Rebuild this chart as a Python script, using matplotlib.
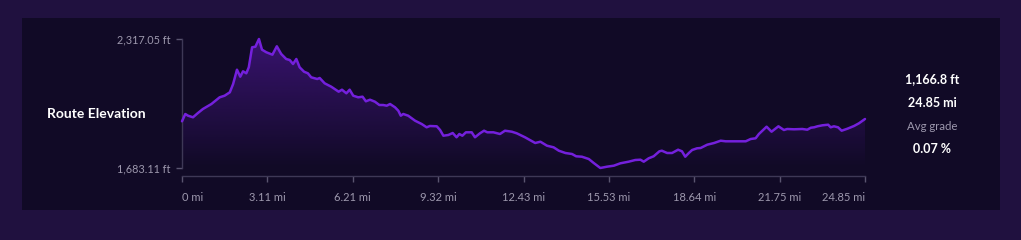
import numpy as np
import matplotlib.pyplot as plt
from matplotlib.patches import Rectangle

# distance along route (mi) and elevation (ft)
dist_mi = [0.00, 0.12, 0.22, 0.40, 0.58, 0.76, 1.07, 1.37, 1.55, 1.74,
           1.86, 2.00, 2.12, 2.22, 2.34, 2.43, 2.55, 2.67, 2.80, 2.91,
           3.07, 3.29, 3.45, 3.61, 3.79, 3.92, 4.04, 4.16, 4.28, 4.44,
           4.58, 4.70, 4.92, 5.01, 5.19, 5.43, 5.70, 5.82, 5.98, 6.10,
           6.23, 6.41, 6.57, 6.69, 6.84, 7.02, 7.18, 7.32, 7.45, 7.57,
           7.75, 7.87, 7.96, 8.05, 8.23, 8.48, 8.72, 8.90, 9.02, 9.27,
           9.39, 9.51, 9.69, 9.85, 9.99, 10.09, 10.20, 10.33, 10.54, 10.66,
           10.84, 10.99, 11.11, 11.33, 11.57, 11.75, 12.00, 12.18, 12.48, 12.85,
           13.04, 13.28, 13.52, 13.71, 13.95, 14.19, 14.34, 14.55, 14.80, 14.98,
           15.22, 15.46, 15.71, 15.95, 16.25, 16.49, 16.68, 16.80, 16.98, 17.16,
           17.37, 17.46, 17.65, 17.83, 18.05, 18.19, 18.31, 18.44, 18.56, 18.74,
           18.87, 19.11, 19.36, 19.60, 19.78, 20.09, 20.51, 20.69, 20.87, 20.99,
           21.27, 21.45, 21.70, 21.90, 22.02, 22.27, 22.57, 22.75, 22.88, 23.00,
           23.12, 23.30, 23.51, 23.60, 23.72, 23.87, 24.00, 24.21, 24.45, 24.63,
           24.85]
elev_ft = [1912.6, 1948.5, 1940.1, 1932.3, 1953.4, 1973.0, 1997.6, 2030.5, 2038.4, 2055.1,
           2095.9, 2166.2, 2131.8, 2158.3, 2148.5, 2178.0, 2276.3, 2279.2, 2317.05, 2264.5,
           2251.7, 2239.9, 2281.2, 2243.3, 2218.8, 2213.8, 2194.2, 2218.8, 2178.0, 2156.3,
           2148.5, 2128.8, 2120.5, 2125.4, 2099.3, 2082.6, 2058.1, 2067.9, 2050.2, 2067.9,
           2038.4, 2030.5, 2033.5, 2010.9, 2018.7, 2008.9, 1992.7, 1992.7, 1989.3, 1997.6,
           1981.4, 1964.7, 1940.1, 1948.5, 1940.1, 1915.5, 1899.3, 1883.1, 1889.5, 1888.0,
           1869.8, 1841.8, 1845.3, 1855.1, 1834.0, 1850.2, 1841.8, 1858.5, 1858.5, 1834.0,
           1853.6, 1866.4, 1858.5, 1858.5, 1850.2, 1866.4, 1861.5, 1853.6, 1834.0, 1806.0,
           1812.3, 1792.7, 1784.8, 1768.1, 1756.8, 1751.9, 1740.6, 1738.6, 1727.3, 1707.7,
           1683.11, 1689.5, 1694.4, 1706.2, 1714.1, 1722.4, 1723.9, 1714.1, 1730.8, 1740.6,
           1765.2, 1768.1, 1756.8, 1756.8, 1773.0, 1765.2, 1738.6, 1756.8, 1771.6, 1779.9,
           1781.4, 1797.6, 1806.0, 1817.3, 1814.3, 1814.3, 1814.3, 1825.6, 1829.1, 1850.2,
           1886.1, 1861.5, 1888.0, 1869.8, 1874.8, 1873.3, 1874.8, 1871.3, 1881.1, 1883.1,
           1888.0, 1892.9, 1895.9, 1883.1, 1888.0, 1883.1, 1866.4, 1876.2, 1889.5, 1902.8,
           1923.9]

x_ticks = [0, 3.11, 6.21, 9.32, 12.43, 15.53, 18.64, 21.75, 24.85]
x_labels = ['0 mi', '3.11 mi', '6.21 mi', '9.32 mi', '12.43 mi', '15.53 mi',
            '18.64 mi', '21.75 mi', '24.85 mi']
y_ticks = [1683.11, 2317.05]
y_labels = ['1,683.11 ft', '2,317.05 ft']

stats = ['1,166.8 ft', '24.85 mi', 'Avg grade', '0.07 %']

W, H = 1021, 240
outer_bg = '#20113f'
panel_bg = '#110a26'
line_col = '#7420dc'
tick_txt = '#9d98ad'
axis_col = '#3e3856'

plt.rcParams['font.family'] = ['Lato', 'DejaVu Sans']

fig = plt.figure(figsize=(W / 100, H / 100), dpi=100)
fig.patch.set_facecolor(outer_bg)
panel = Rectangle((22 / W, 30 / H), 978 / W, 192 / H,
                  transform=fig.transFigure, facecolor=panel_bg,
                  edgecolor='none', zorder=-10)
fig.add_artist(panel)

ax = fig.add_axes([182 / W, (H - 168) / H, (865 - 182) / W, (168 - 39) / H])
ax.set_zorder(5)
ax.set_facecolor('none')
ymin, ymax = min(elev_ft), max(elev_ft)
ax.set_xlim(0, 24.85)
ax.set_ylim(ymin, ymax)

# gradient fill under the line
grad = np.zeros((200, 2, 4))
r, g, b = [int(line_col[i:i + 2], 16) / 255 for i in (1, 3, 5)]
grad[..., 0], grad[..., 1], grad[..., 2] = r, g, b
grad[..., 3] = np.linspace(0.4, 0.0, 200)[:, None]
img = ax.imshow(grad, extent=[0, 24.85, ymin, ymax], origin='upper',
                aspect='auto', zorder=1)
poly = ax.fill_between(dist_mi, elev_ft, ymin, facecolor='none', edgecolor='none')
img.set_clip_path(poly.get_paths()[0], transform=ax.transData)

ax.plot(dist_mi, elev_ft, color=line_col, linewidth=1.8, zorder=3,
        solid_joinstyle='round', solid_capstyle='round', clip_on=False)

for s in ['top', 'right']:
    ax.spines[s].set_visible(False)
ax.spines['left'].set_color(axis_col)
ax.spines['left'].set_linewidth(1)
ax.spines['bottom'].set_color(axis_col)
ax.spines['bottom'].set_linewidth(1)
ax.spines['bottom'].set_position(('outward', 6))

ax.set_xticks(x_ticks)
ax.set_xticklabels(x_labels)
ax.set_yticks(y_ticks)
ax.set_yticklabels(y_labels)
ax.tick_params(axis='x', colors=tick_txt, labelsize=8, length=4.5, width=1,
               pad=6.5, color='#5a5570')
ax.tick_params(axis='y', colors=tick_txt, labelsize=7.8, length=4, width=1,
               pad=4.5, color='#5a5570')
xl = ax.get_xticklabels()
xl[0].set_horizontalalignment('left')
xl[-1].set_horizontalalignment('right')

fig.text(47 / W, 1 - 114 / H, 'Route Elevation', color='white', fontsize=10,
         fontweight='bold', ha='left', va='center')

stat_y = [79, 103, 127, 149]
for txt, yy in zip(stats, stat_y):
    grey = txt == 'Avg grade'
    fig.text(932 / W, 1 - yy / H, txt, color=tick_txt if grey else 'white',
             fontsize=8.2 if grey else 9, fontweight='normal' if grey else 'bold',
             ha='center', va='center')

fig.savefig('out.png', dpi=100, facecolor=fig.get_facecolor())
